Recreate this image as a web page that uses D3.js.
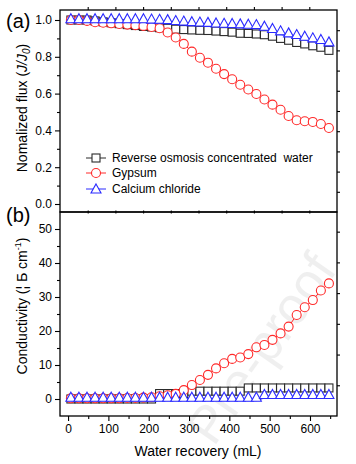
<!DOCTYPE html>
<html><head><meta charset="utf-8">
<script src="https://cdn.jsdelivr.net/npm/d3@7"></script>
<style>
body{margin:0;background:#fff}
svg{display:block}
text{font-family:"Liberation Sans",Arial,Helvetica,sans-serif;fill:#000}
</style>
</head><body><script>
// ---- data ----
const recovery = [7,27,47,67,87,107,127,147,167,187,207,227,247,267,287,307,327,347,367,387,407,427,447,467,487,507,527,547,567,587,607,627,647];
const fluxROC  = [1.0,1.0,1.0,0.995,0.99,0.985,0.98,0.975,0.97,0.965,0.962,0.958,0.955,0.95,0.948,0.946,0.944,0.943,0.94,0.937,0.934,0.928,0.927,0.924,0.92,0.912,0.90,0.89,0.878,0.87,0.86,0.852,0.835];
const fluxGyp  = [1.0,1.0,0.995,0.988,0.985,0.982,0.978,0.975,0.972,0.968,0.962,0.955,0.932,0.905,0.87,0.828,0.795,0.768,0.735,0.706,0.678,0.648,0.622,0.598,0.568,0.54,0.512,0.478,0.455,0.45,0.446,0.435,0.413];
const fluxCaCl = [0.988,0.988,0.988,0.988,0.988,0.988,0.988,0.988,0.988,0.988,0.986,0.985,0.983,0.978,0.975,0.972,0.97,0.968,0.965,0.963,0.962,0.96,0.958,0.956,0.947,0.935,0.922,0.911,0.902,0.893,0.884,0.875,0.862];
const condROC  = [0,0,0,0,0,0,0,0,0,0,0,1.6,1.6,1.6,1.6,2.3,2.3,2.3,2.3,2.3,2.3,2.3,3.25,3.25,3.25,3.25,3.25,3.25,3.25,3.25,3.25,3.25,3.25];
const condGyp  = [0.2,0.2,0.2,0.2,0.2,0.2,0.2,0.3,0.3,0.4,0.5,0.8,1.1,1.5,2.6,4.1,5.6,7.1,9.0,10.5,11.8,12.2,13.2,15.2,15.9,17.4,19.3,21.3,24.7,27.0,29.1,31.9,34.0];
const condCaCl = [-0.5,-0.5,-0.5,-0.5,-0.5,-0.5,-0.5,-0.5,-0.5,-0.5,-0.5,-0.5,-0.5,-0.5,-0.5,-0.5,-0.5,-0.5,-0.5,-0.5,-0.5,-0.5,-0.5,-0.5,0.3,0.3,0.3,0.3,0.3,0.3,0.3,0.3,0.3];
const seriesNames = ["Reverse osmosis concentrated  water","Gypsum","Calcium chloride"];
const xTicks = [0,100,200,300,400,500,600];
const xMinor = [50,150,250,350,450,550,650];
const fluxTicks = [0.0,0.2,0.4,0.6,0.8,1.0];
const fluxMinor = [0.1,0.3,0.5,0.7,0.9];
const condTicks = [0,10,20,30,40,50];
const condMinor = [5,15,25,35,45];

// ---- layout ----
const W = 356, H = 464;
const L = 60, R = 337, TA = 10, MID = 212, BB = 416;
const svg = d3.select("body").append("svg").attr("width", W).attr("height", H);

const x = d3.scaleLinear().domain([-20, 667]).range([L, R]);
const ya = d3.scaleLinear().domain([0, 1]).range([204, 20]);
const yb = d3.scaleLinear().domain([0, 50]).range([399, 229]);

const colors = ["#2a2a2a", "#ff2a2a", "#2a2aff"];

// watermark
svg.append("text")
  .attr("transform", "translate(338,270) rotate(-55)")
  .attr("text-anchor", "end")
  .style("font-size", "52px")
  .style("fill", "#000")
  .style("opacity", 0.06)
  .text("Pre-proof");

// frames
svg.append("rect").attr("x", L).attr("y", TA).attr("width", R - L).attr("height", MID - TA)
  .attr("fill", "none").attr("stroke", "#000").attr("stroke-width", 1.3);
svg.append("rect").attr("x", L).attr("y", MID).attr("width", R - L).attr("height", BB - MID)
  .attr("fill", "none").attr("stroke", "#000").attr("stroke-width", 1.3);

function styleAxis(g, font) {
  g.select(".domain").remove();
  g.selectAll("line").attr("stroke", "#000").attr("stroke-width", 1.1);
  g.selectAll("text").style("font-size", font || "12px").attr("fill", "#000");
}

// left axes
svg.append("g").attr("transform", `translate(${L},0)`)
  .call(d3.axisLeft(ya).tickValues(fluxTicks).tickSize(5).tickPadding(3).tickFormat(d3.format(".1f")))
  .call(styleAxis);
svg.append("g").attr("transform", `translate(${L},0)`)
  .call(d3.axisLeft(ya).tickValues(fluxMinor).tickSize(3).tickFormat(""))
  .call(styleAxis);
svg.append("g").attr("transform", `translate(${L},0)`)
  .call(d3.axisLeft(yb).tickValues(condTicks).tickSize(5).tickPadding(3).tickFormat(d3.format("d")))
  .call(styleAxis);
svg.append("g").attr("transform", `translate(${L},0)`)
  .call(d3.axisLeft(yb).tickValues(condMinor).tickSize(3).tickFormat(""))
  .call(styleAxis);

// bottom axis
svg.append("g").attr("transform", `translate(0,${BB})`)
  .call(d3.axisBottom(x).tickValues(xTicks).tickSize(5).tickPadding(3))
  .call(styleAxis);
svg.append("g").attr("transform", `translate(0,${BB})`)
  .call(d3.axisBottom(x).tickValues(xMinor).tickSize(3).tickFormat(""))
  .call(styleAxis);

// mirror axes (ten equal divisions)
const topDiv = d3.scaleLinear().domain([0, 10]).range([L, R]);
const rightDivA = d3.scaleLinear().domain([0, 10]).range([MID, TA]);
const rightDivB = d3.scaleLinear().domain([0, 6.64]).range([BB, MID]);
svg.append("g").attr("transform", `translate(0,${TA})`)
  .call(d3.axisTop(topDiv).tickValues(d3.range(1, 10)).tickSize(3).tickFormat(""))
  .call(styleAxis);
svg.append("g").attr("transform", `translate(0,${MID + 1.5})`)
  .call(d3.axisTop(topDiv).tickValues(d3.range(1, 10)).tickSize(3).tickFormat(""))
  .call(styleAxis);
svg.append("g").attr("transform", `translate(${R},0)`)
  .call(d3.axisRight(rightDivA).tickValues(d3.range(1, 10)).tickSize(3).tickFormat(""))
  .call(styleAxis);
svg.append("g").attr("transform", `translate(${R},0)`)
  .call(d3.axisRight(rightDivB).tickValues(d3.range(1, 7)).tickSize(3).tickFormat(""))
  .call(styleAxis);

// markers
const triPath = "M0,-8.5L5,0.5L-5,0.5Z";
function drawMarker(g, kind, color, cx, cy) {
  if (kind === 0) {
    g.append("rect").attr("x", cx - 4).attr("y", cy - 4).attr("width", 8).attr("height", 8)
      .attr("fill", "#fff").attr("stroke", color).attr("stroke-width", 1.1);
  } else if (kind === 1) {
    g.append("circle").attr("cx", cx).attr("cy", cy).attr("r", 4.5)
      .attr("fill", "#fff").attr("stroke", color).attr("stroke-width", 1.1);
  } else {
    g.append("path").attr("d", triPath).attr("transform", `translate(${cx},${cy})`)
      .attr("fill", "#fff").attr("stroke", color).attr("stroke-width", 1.1);
  }
}

function drawSeries(vals, yScale, kind) {
  const g = svg.append("g");
  const pts = recovery.map((r, i) => [x(r), yScale(vals[i])]);
  g.append("path").attr("d", d3.line()(pts)).attr("fill", "none")
    .attr("stroke", colors[kind]).attr("stroke-width", 1);
  pts.forEach(p => drawMarker(g, kind, colors[kind], p[0], p[1]));
}

drawSeries(fluxROC, ya, 0);
drawSeries(fluxGyp, ya, 1);
drawSeries(fluxCaCl, ya, 2);
drawSeries(condROC, yb, 0);
drawSeries(condGyp, yb, 1);
drawSeries(condCaCl, yb, 2);

// legend
const legY = [158, 173, 189];
seriesNames.forEach((name, k) => {
  const g = svg.append("g");
  const yy = legY[k];
  g.append("line").attr("x1", 86).attr("x2", 106).attr("y1", yy).attr("y2", yy)
    .attr("stroke", colors[k]).attr("stroke-width", 1);
  drawMarker(g, k, colors[k], 96, k === 2 ? yy + 3.5 : yy);
  g.append("text").attr("x", 112).attr("y", yy + 4.3).style("font-size", "12px")
    .style("white-space", "pre").attr("xml:space", "preserve").text(name);
});

// axis titles
const ta = svg.append("text").attr("transform", "translate(26.5,108) rotate(-90)")
  .attr("text-anchor", "middle").style("font-size", "14px");
ta.append("tspan").text("Nomalized flux (");
ta.append("tspan").style("font-style", "italic").text("J/J");
ta.append("tspan").style("font-style", "italic").style("font-size", "10px").attr("dy", 3).text("0");
ta.append("tspan").attr("dy", -3).text(")");

const tb = svg.append("text").attr("transform", "translate(26.5,306) rotate(-90)")
  .attr("text-anchor", "middle").style("font-size", "14px");
tb.append("tspan").text("Conductivity (¦ Ƃ cm");
tb.append("tspan").style("font-size", "9px").attr("dy", -6).text("-1");
tb.append("tspan").attr("dy", 6).text(")");

svg.append("text").attr("x", 198).attr("y", 456).attr("text-anchor", "middle")
  .style("font-size", "14px").text("Water recovery (mL)");

// panel labels
svg.append("text").attr("x", 6).attr("y", 28).style("font-size", "20px").text("(a)");
svg.append("text").attr("x", 6).attr("y", 222).style("font-size", "20px").text("(b)");
</script></body></html>
